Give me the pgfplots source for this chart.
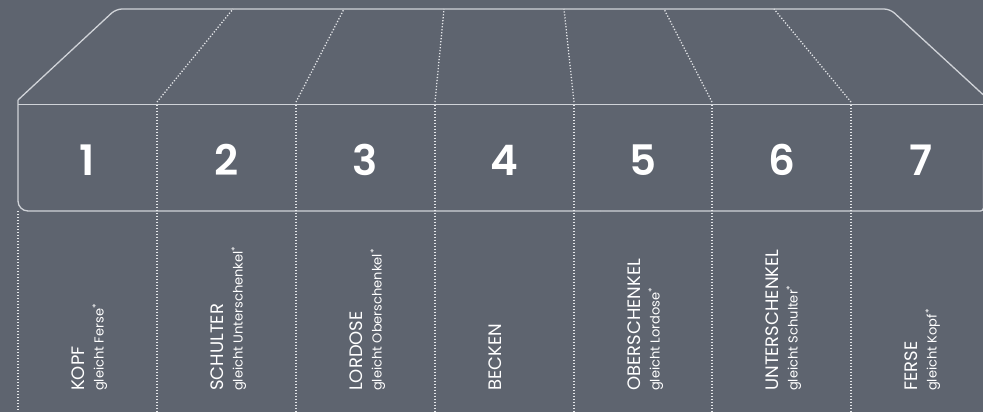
\documentclass[border=0pt]{standalone}
\usepackage{pgfplots}
\pgfplotsset{compat=1.18}
\usepackage{fontspec}
\setmainfont{Poppins}
\newfontfamily\numfont{Poppins SemiBold}
\definecolor{bg}{HTML}{5E646F}
\definecolor{edge}{HTML}{D0D3D8}
\definecolor{dots}{HTML}{E4E6E9}

\newcommand{\zone}[4]{%
  \node[rotate=90, anchor=base west, inner sep=0pt, text=white,
        font=\fontsize{18}{18}\selectfont] at (axis cs:#1-3,391) {#3};
  \node[rotate=90, anchor=base west, inner sep=0pt, text=white,
        font=\fontsize{13}{13}\selectfont] at (axis cs:#1+16,391) {#4};
  \node[text=white, font=\numfont\fontsize{42}{42}\selectfont] at (axis cs:#1,160) {#2};
}

\begin{document}
\begin{tikzpicture}
\begin{axis}[
  scale only axis, width=983pt, height=412pt,
  xmin=0, xmax=983, ymin=0, ymax=412, y dir=reverse,
  hide axis, clip=true,
  dotline/.style={dots, line width=1.3pt, dash pattern=on 1.2pt off 1.8pt},
  solidline/.style={edge, line width=1.3pt},
]
% background
\addplot[fill=bg, draw=none] coordinates {(0,0) (983,0) (983,412) (0,412)};

% top face outline
\addplot[solidline, rounded corners=6pt] coordinates {(18,100) (116,9) (890,9) (990,101)};
% front face: top edge, left + bottom edge
\addplot[solidline] coordinates {(18,104.5) (983,104.5)};
\addplot[solidline, rounded corners=10pt] coordinates {(18,100) (18,211) (600,211)};
\addplot[solidline, rounded corners=3pt] coordinates {(600,211) (983.5,211) (983.5,150)};

% dotted dividers on the top face
\addplot[dotline] coordinates {(157,102) (233,9)};
\addplot[dotline] coordinates {(296,102) (344,9)};
\addplot[dotline] coordinates {(435,102) (444,9)};
\addplot[dotline] coordinates {(574,102) (564,9)};
\addplot[dotline] coordinates {(712,102) (664,9)};
\addplot[dotline] coordinates {(851,102) (774,9)};

% dotted dividers on the front face and below
\addplot[dotline] coordinates {(18,211) (18,412)};
\addplot[dotline] coordinates {(157,104.5) (157,412)};
\addplot[dotline] coordinates {(296,104.5) (296,412)};
\addplot[dotline] coordinates {(435,104.5) (435,412)};
\addplot[dotline] coordinates {(574,104.5) (574,412)};
\addplot[dotline] coordinates {(712,104.5) (712,412)};
\addplot[dotline] coordinates {(851,104.5) (851,412)};

\zone{87.5}{1}{KOPF}{gleicht Ferse\textsuperscript{*}}
\zone{226.5}{2}{SCHULTER}{gleicht Unterschenkel\textsuperscript{*}}
\zone{365.5}{3}{LORDOSE}{gleicht Oberschenkel\textsuperscript{*}}
\zone{504.5}{4}{BECKEN}{}
\zone{643.5}{5}{OBERSCHENKEL}{gleicht Lordose\textsuperscript{*}}
\zone{781.5}{6}{UNTERSCHENKEL}{gleicht Schulter\textsuperscript{*}}
\zone{920.5}{7}{FERSE}{gleicht Kopf\textsuperscript{*}}
\end{axis}
\end{tikzpicture}
\end{document}
